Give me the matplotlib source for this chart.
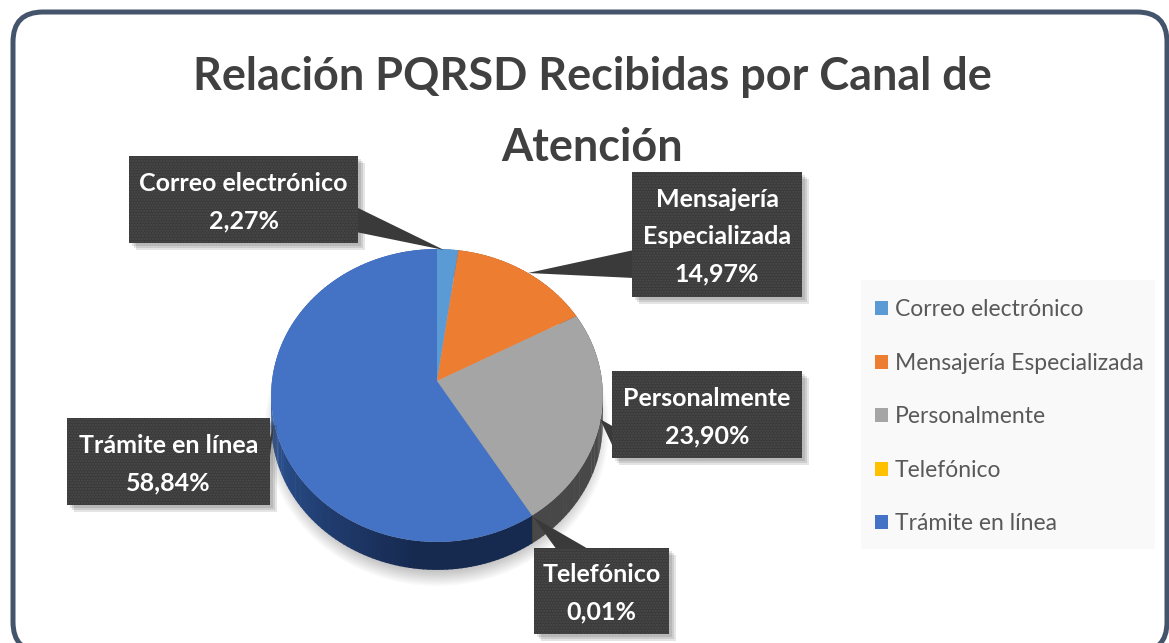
import numpy as np
import matplotlib
matplotlib.use("Agg")
import matplotlib.pyplot as plt
from matplotlib.patches import FancyBboxPatch, Rectangle, Polygon, Ellipse
from matplotlib.path import Path
from matplotlib.transforms import Transform
from matplotlib.colors import to_rgb

categories = ["Correo electrónico", "Mensajería Especializada", "Personalmente", "Telefónico", "Trámite en línea"]
values = [2.27, 14.97, 23.90, 0.01, 58.84]
colors = ["#5b9bd5", "#ed7d31", "#a5a5a5", "#ffc000", "#4472c4"]
title = "Relación PQRSD Recibidas por Canal de\nAtención"
box_labels = ["Correo electrónico", "Mensajería\nEspecializada", "Personalmente", "Telefónico", "Trámite en línea"]

CX, CY, RX, RY, K, DEPTH = 437.0, 381.0, 165.0, 145.0, 0.099, 28.0
plt.rcParams["font.family"] = ["Lato", "DejaVu Sans"]
plt.rcParams["hatch.linewidth"] = 1.0


def project(pts, dy=0.0):
    pts = np.asarray(pts, float)
    d = 1 + K * pts[:, 1]
    return np.column_stack([CX + RX * pts[:, 0] / d, CY - RY * pts[:, 1] / d + dy])


class Perspective(Transform):
    input_dims = output_dims = 2
    is_affine = False
    has_inverse = False

    def transform_non_affine(self, values):
        return project(values)

    def transform_path_non_affine(self, path):
        pts = []
        for seg, _ in path.iter_bezier():
            if seg.degree == 0:
                continue
            pts.append(seg(np.linspace(0, 1, 16)))
        return Path(project(np.vstack(pts)))


fig = plt.figure(figsize=(11.69, 6.43), dpi=100, facecolor="white")
ax = fig.add_axes([0, 0, 1, 1])

wedges, _ = ax.pie(values, colors=colors, startangle=90, counterclock=False, radius=1.0,
                   wedgeprops=dict(linewidth=0, zorder=5))
ax.set_aspect("auto")
ax.set_xlim(0, 1169)
ax.set_ylim(643, 0)
ax.axis("off")
proj = Perspective()
for w in wedges:
    w.set_transform(proj + ax.transData)

# frame
ax.add_patch(FancyBboxPatch((13 + 30, 12 + 30), 1154 - 60, 640 - 60,
                            boxstyle="round,pad=30,rounding_size=30",
                            fc="white", ec="#44546a", lw=3.6, zorder=0))

# soft shadow beneath the pie
for i in range(14):
    ax.add_patch(Ellipse((437, 428), 2 * (160 + 12 - i * 1.6), 2 * (146 + 12 - i * 1.6),
                         fc="black", ec="none", alpha=0.022, zorder=1))

# rim
side_colors = {0: "#3f6fae", 1: "#8f4a1c", 2: "#484848", 3: "#7f6000"}
front = np.array(to_rgb("#16294f"))
edge = np.array(to_rgb("#2f5a9e"))
for idx, w in enumerate(wedges):
    a0, a1 = sorted((w.theta1, w.theta2))
    n = max(int((a1 - a0) / 1.5), 1)
    edges = np.linspace(a0, a1, n + 1)
    for j in range(n):
        t = np.radians(edges[j:j + 2] + [-0.15, 0.15])
        arc = np.column_stack([np.cos(t), np.sin(t)])
        top = project(arc)
        bot = project(arc, DEPTH)
        if idx == 4:
            # darkest at the front, lighter towards the left edge
            ang = np.mean(edges[j:j + 2]) % 360
            f = np.clip((265 - ang) / 80.0, 0, 1)
            c = front + (edge - front) * f
        else:
            c = side_colors[idx]
        ax.add_patch(Polygon(np.vstack([top, bot[::-1]]), closed=True, fc=c, ec="none", zorder=3))

# callouts: box (x0, y0, x1, y1), leader polygon
layout = [
    ((129, 156, 358, 243), [(356, 207), (444, 250), (356, 232)]),
    ((632, 172, 802, 297), [(634, 250), (528, 273), (634, 278)]),
    ((612, 371, 802, 458), [(614, 427), (600, 419), (614, 449)]),
    ((534, 548, 669, 634), [(557, 550), (533, 517), (590, 550)]),
    ((67, 418, 270, 505), [(268, 445), (274, 424), (268, 472)]),
]
BOX = "#3a3a3a"
for cat, val, (b, lead) in zip(box_labels, values, layout):
    x0, y0, x1, y1 = b
    for s in (7, 5, 3):
        ax.add_patch(Rectangle((x0 + s, y0 + s), x1 - x0, y1 - y0, fc="black", ec="none",
                               alpha=0.10, zorder=6))
    ax.add_patch(Polygon(lead, closed=True, fc=BOX, ec="none", zorder=7))
    ax.add_patch(Rectangle((x0, y0), x1 - x0, y1 - y0, fc=BOX, ec="#4c4c4c", lw=0,
                           hatch="......", zorder=7))
    txt = f"{cat}\n{val:.2f}%".replace(".", ",")
    ax.text((x0 + x1) / 2, (y0 + y1) / 2 + 2.5, txt, ha="center", va="center", color="white",
            fontsize=18, fontweight="bold", linespacing=1.75, zorder=8)

ax.text(592, 112.5, title, ha="center", va="center", color="#404040", fontsize=32.4,
        fontweight="bold", linespacing=1.88, zorder=4)

# legend
ax.add_patch(Rectangle((861, 280), 294, 269, fc="#f9f9f9", ec="none", zorder=2))
leg = ax.legend(wedges, categories, loc="upper left", bbox_to_anchor=(861 / 1169, 1 - 285 / 643),
                frameon=False, fontsize=16.5, labelcolor="#595959", handlelength=0.56,
                handleheight=0.56, handletextpad=0.3, labelspacing=1.42, borderpad=0.62,
                borderaxespad=0)
leg.set_zorder(4)

fig.savefig("out.png", dpi=100)
